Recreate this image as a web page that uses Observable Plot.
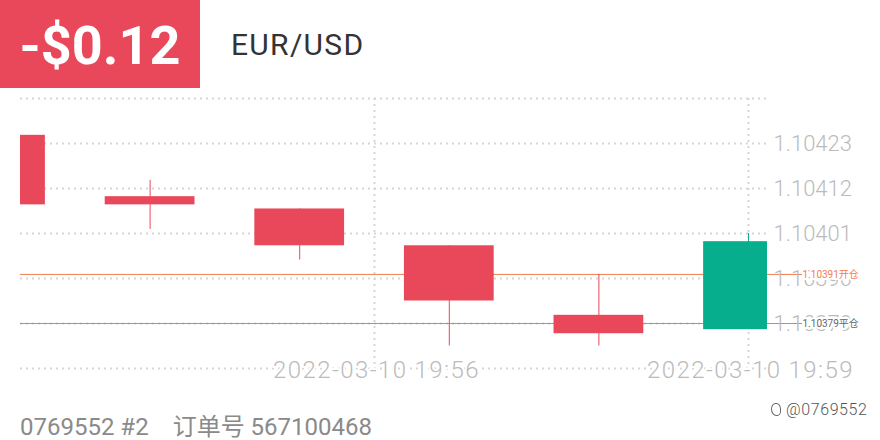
<!DOCTYPE html>
<html>
<head>
<meta charset="utf-8">
<script src="https://cdn.jsdelivr.net/npm/d3@7"></script>
<script src="https://cdn.jsdelivr.net/npm/@observablehq/plot@0.6"></script>
<style>
  html, body { margin: 0; padding: 0; background: #fff; width: 880px; height: 440px; overflow: hidden; }
  body { font-family: Roboto, "Noto Sans CJK SC", sans-serif; }
  #hdr { position: relative; height: 88px; }
  #pnl { position: absolute; left: 0; top: 0; width: 200px; height: 88px; background: #E9485A; color: #fff;
         font: 700 54px Roboto, sans-serif; display: flex; align-items: center; justify-content: center; padding-top: 2px; box-sizing: border-box; }
  #sym { position: absolute; left: 231px; top: 27px; font: 400 30px Roboto, sans-serif; color: #333; line-height: 36px; letter-spacing: 1.3px; }
  #chart { height: 292px; }
  #ftr { position: relative; height: 60px; }
  #ord { position: absolute; left: 20px; top: 32px; font: 400 24px Roboto, "Noto Sans CJK SC", sans-serif; color: #8a8a8a; line-height: 30px; white-space: pre; }
  #ord span + span { margin-left: 24px; }
  #wm { position: absolute; left: 771px; top: 19px; font: 300 16px Roboto, sans-serif; color: #555; line-height: 22px; letter-spacing: 0.6px; white-space: nowrap; }
  #wm i { display: inline-block; width: 8px; height: 11px; border: 1px solid #666; border-radius: 50% 50% 40% 60%; margin-right: 5px; vertical-align: -1px; }
</style>
</head>
<body>
<div id="hdr"><div id="pnl">-$0.12</div><div id="sym">EUR/USD</div></div>
<div id="chart"></div>
<div id="ftr"><div id="ord"><span>0769552 #2</span><span>订单号 567100468</span></div><div id="wm"><i></i>@0769552</div></div>
<script>
// ---- data ----
const candleIndex = [0, 1, 2, 3, 4, 5];
const opens  = [1.10425, 1.10410, 1.10407, 1.10398, 1.10381, 1.103775];
const highs  = [1.10426, 1.10414, 1.10407, 1.10398, 1.10391, 1.10401];
const lows   = [1.10408, 1.10402, 1.103945, 1.103735, 1.103735, 1.103775];
const closes = [1.10408, 1.10408, 1.10398, 1.103845, 1.103765, 1.10399];
const gridY  = [1.10434, 1.10423, 1.10412, 1.10401, 1.10390, 1.10379, 1.10368];
const yTicks = [1.10423, 1.10412, 1.10401, 1.10390, 1.10379];
const xTickPos = [2.5, 5];
const xTickLabels = ["2022-03-10 19:56", "2022-03-10 19:59"];
const openPrice = 1.10391;
const closePrice = 1.10379;

// ---- build ----
const candles = candleIndex.map((i, k) => ({i, open: opens[k], high: highs[k], low: lows[k], close: closes[k]}));
const xTicks = xTickPos.map((p, k) => ({pos: p, label: xTickLabels[k]}));
const RED = "#E9485A", GREEN = "#07AE8D", ORANGE = "#F27C4F", GRID = "#d6d6d6";
const color = d => d.close >= d.open ? GREEN : RED;
const half = 0.3;

const chart = Plot.plot({
  width: 880,
  height: 292,
  marginTop: 10,
  marginBottom: 12,
  marginLeft: 20,
  marginRight: 113,
  x: {domain: [0.1337, 5.127], axis: null},
  y: {domain: [1.10368, 1.10434], axis: null},
  style: {fontFamily: "Roboto, 'Noto Sans CJK SC', sans-serif", background: "white", overflow: "visible"},
  marks: [
    Plot.ruleY(gridY, {stroke: GRID, strokeWidth: 2, strokeDasharray: "2,4"}),
    Plot.ruleX(xTicks, {x: "pos", stroke: GRID, strokeWidth: 2, strokeDasharray: "2,4"}),
    Plot.ruleY([openPrice], {stroke: ORANGE, strokeWidth: 1, insetRight: -35}),
    Plot.ruleY([closePrice], {stroke: "#999", strokeWidth: 1, insetRight: -35}),
    Plot.ruleX(candles, {x: "i", y1: "low", y2: "high", stroke: color, strokeWidth: 1, clip: true}),
    Plot.rect(candles, {x1: d => d.i - half, x2: d => d.i + half, y1: "open", y2: "close", fill: color, clip: true}),
    Plot.text(yTicks, {y: d => d, text: d => d.toFixed(5), frameAnchor: "right", dx: 6, textAnchor: "start",
      fill: "#bbb", fontSize: 22, fontWeight: 300}),
    Plot.text(xTicks, {x: "pos", text: "label", frameAnchor: "bottom", lineAnchor: "middle", dy: 2, dx: 2,
      fill: "#bbb", fontSize: 24, fontWeight: 300, stroke: "white", strokeWidth: 4, paintOrder: "stroke"}),
    Plot.text([openPrice], {y: d => d, text: d => d.toFixed(5) + "开仓", frameAnchor: "right", dx: 35, textAnchor: "start",
      fill: ORANGE, fontSize: 10, stroke: "white", strokeWidth: 4, paintOrder: "stroke"}),
    Plot.text([closePrice], {y: d => d, text: d => d.toFixed(5) + "平仓", frameAnchor: "right", dx: 35, textAnchor: "start",
      fill: "#666", fontSize: 10, stroke: "white", strokeWidth: 4, paintOrder: "stroke"})
  ]
});
d3.select(chart).selectAll("text").filter(function() { return /^2022/.test(this.textContent); })
  .style("letter-spacing", "1.4px");
document.getElementById("chart").appendChild(chart);
</script>
</body>
</html>
